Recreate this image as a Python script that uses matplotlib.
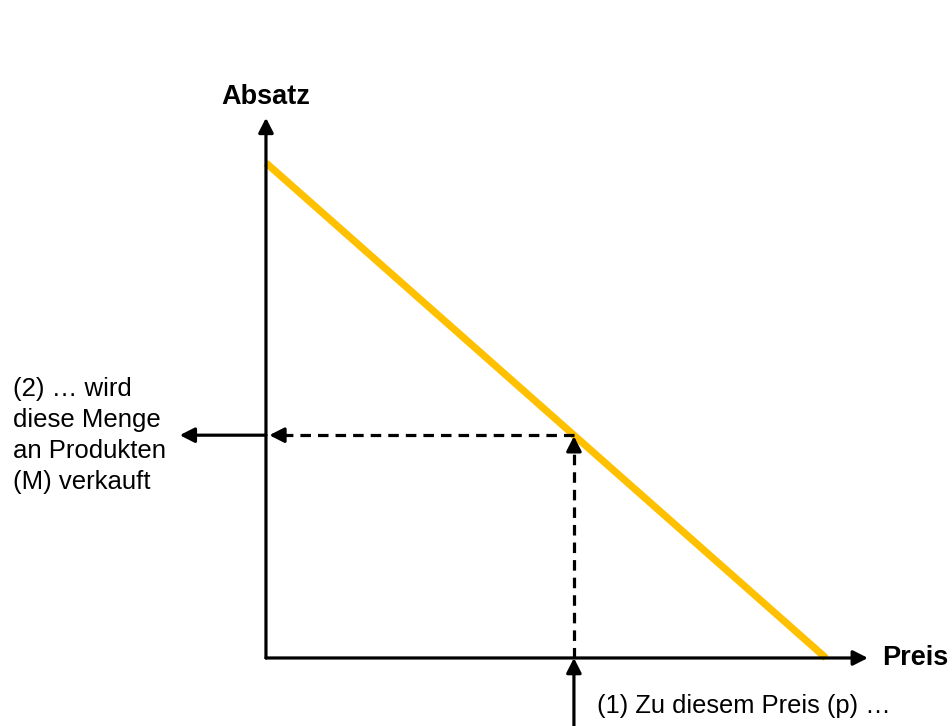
import matplotlib
matplotlib.use("Agg")
import matplotlib.pyplot as plt

# Demand curve: sales volume falls linearly with price
price_max = 10.0
sales_max = 10.0
price_sel = 5.5
sales_sel = sales_max - sales_max / price_max * price_sel

axis_label_x = "Preis"
axis_label_y = "Absatz"
note_price = "(1) Zu diesem Preis (p) …"
note_sales = "(2) … wird\ndiese Menge\nan Produkten\n(M) verkauft"

plt.rcParams['font.family'] = ['Liberation Sans', 'DejaVu Sans']

fig = plt.figure(figsize=(9.53, 7.26), dpi=100)
ax = fig.add_axes([0, 0, 1, 1])
ax.set_xlim(-4.75, 12.27)
ax.set_ylim(-1.374, 13.29)
ax.axis("off")

lw_axis = 2.3
black = "black"
head = dict(arrowstyle="-|>,head_length=0.55,head_width=0.28",
            lw=lw_axis, color=black, mutation_scale=16, shrinkA=0, shrinkB=0)
dash = (0, (3.3, 2.2))

def arrow(x0, y0, x1, y1):
    ax.annotate("", xy=(x1, y1), xytext=(x0, y0), arrowprops=head, zorder=5)

# Axes with arrowheads
arrow(0, 0, 10.75, 0)
arrow(0, 0, 0, 10.91)

# Demand line
ax.plot([0, price_max], [sales_max, 0], color="#FFC000", lw=5.2,
        solid_capstyle="butt", zorder=3)

# Dashed guides from the selected point
ax.plot([price_sel, price_sel], [0, sales_sel - 0.15], color=black, lw=lw_axis,
        ls=dash, zorder=4)
arrow(price_sel, sales_sel - 0.3, price_sel, sales_sel - 0.02)
ax.plot([price_sel, 0.25], [sales_sel, sales_sel], color=black, lw=lw_axis,
        ls=dash, zorder=4)
arrow(0.35, sales_sel, 0.06, sales_sel)

# Solid arrows outside the axes
arrow(price_sel, -1.374, price_sel, 0)
arrow(0, sales_sel, -1.54, sales_sel)

# Labels
ax.text(0, 11.33, axis_label_y, ha="center", va="center",
        fontsize=19.5, fontweight="bold")
ax.text(11.0, 0, axis_label_x, ha="left", va="center",
        fontsize=19.5, fontweight="bold")
ax.text(price_sel + 0.42, -0.98, note_price, ha="left", va="center",
        fontsize=18.4)
ax.text(-4.52, sales_sel, note_sales, ha="left", va="center",
        fontsize=18.5, linespacing=1.37)

fig.savefig("out.png", dpi=100)
